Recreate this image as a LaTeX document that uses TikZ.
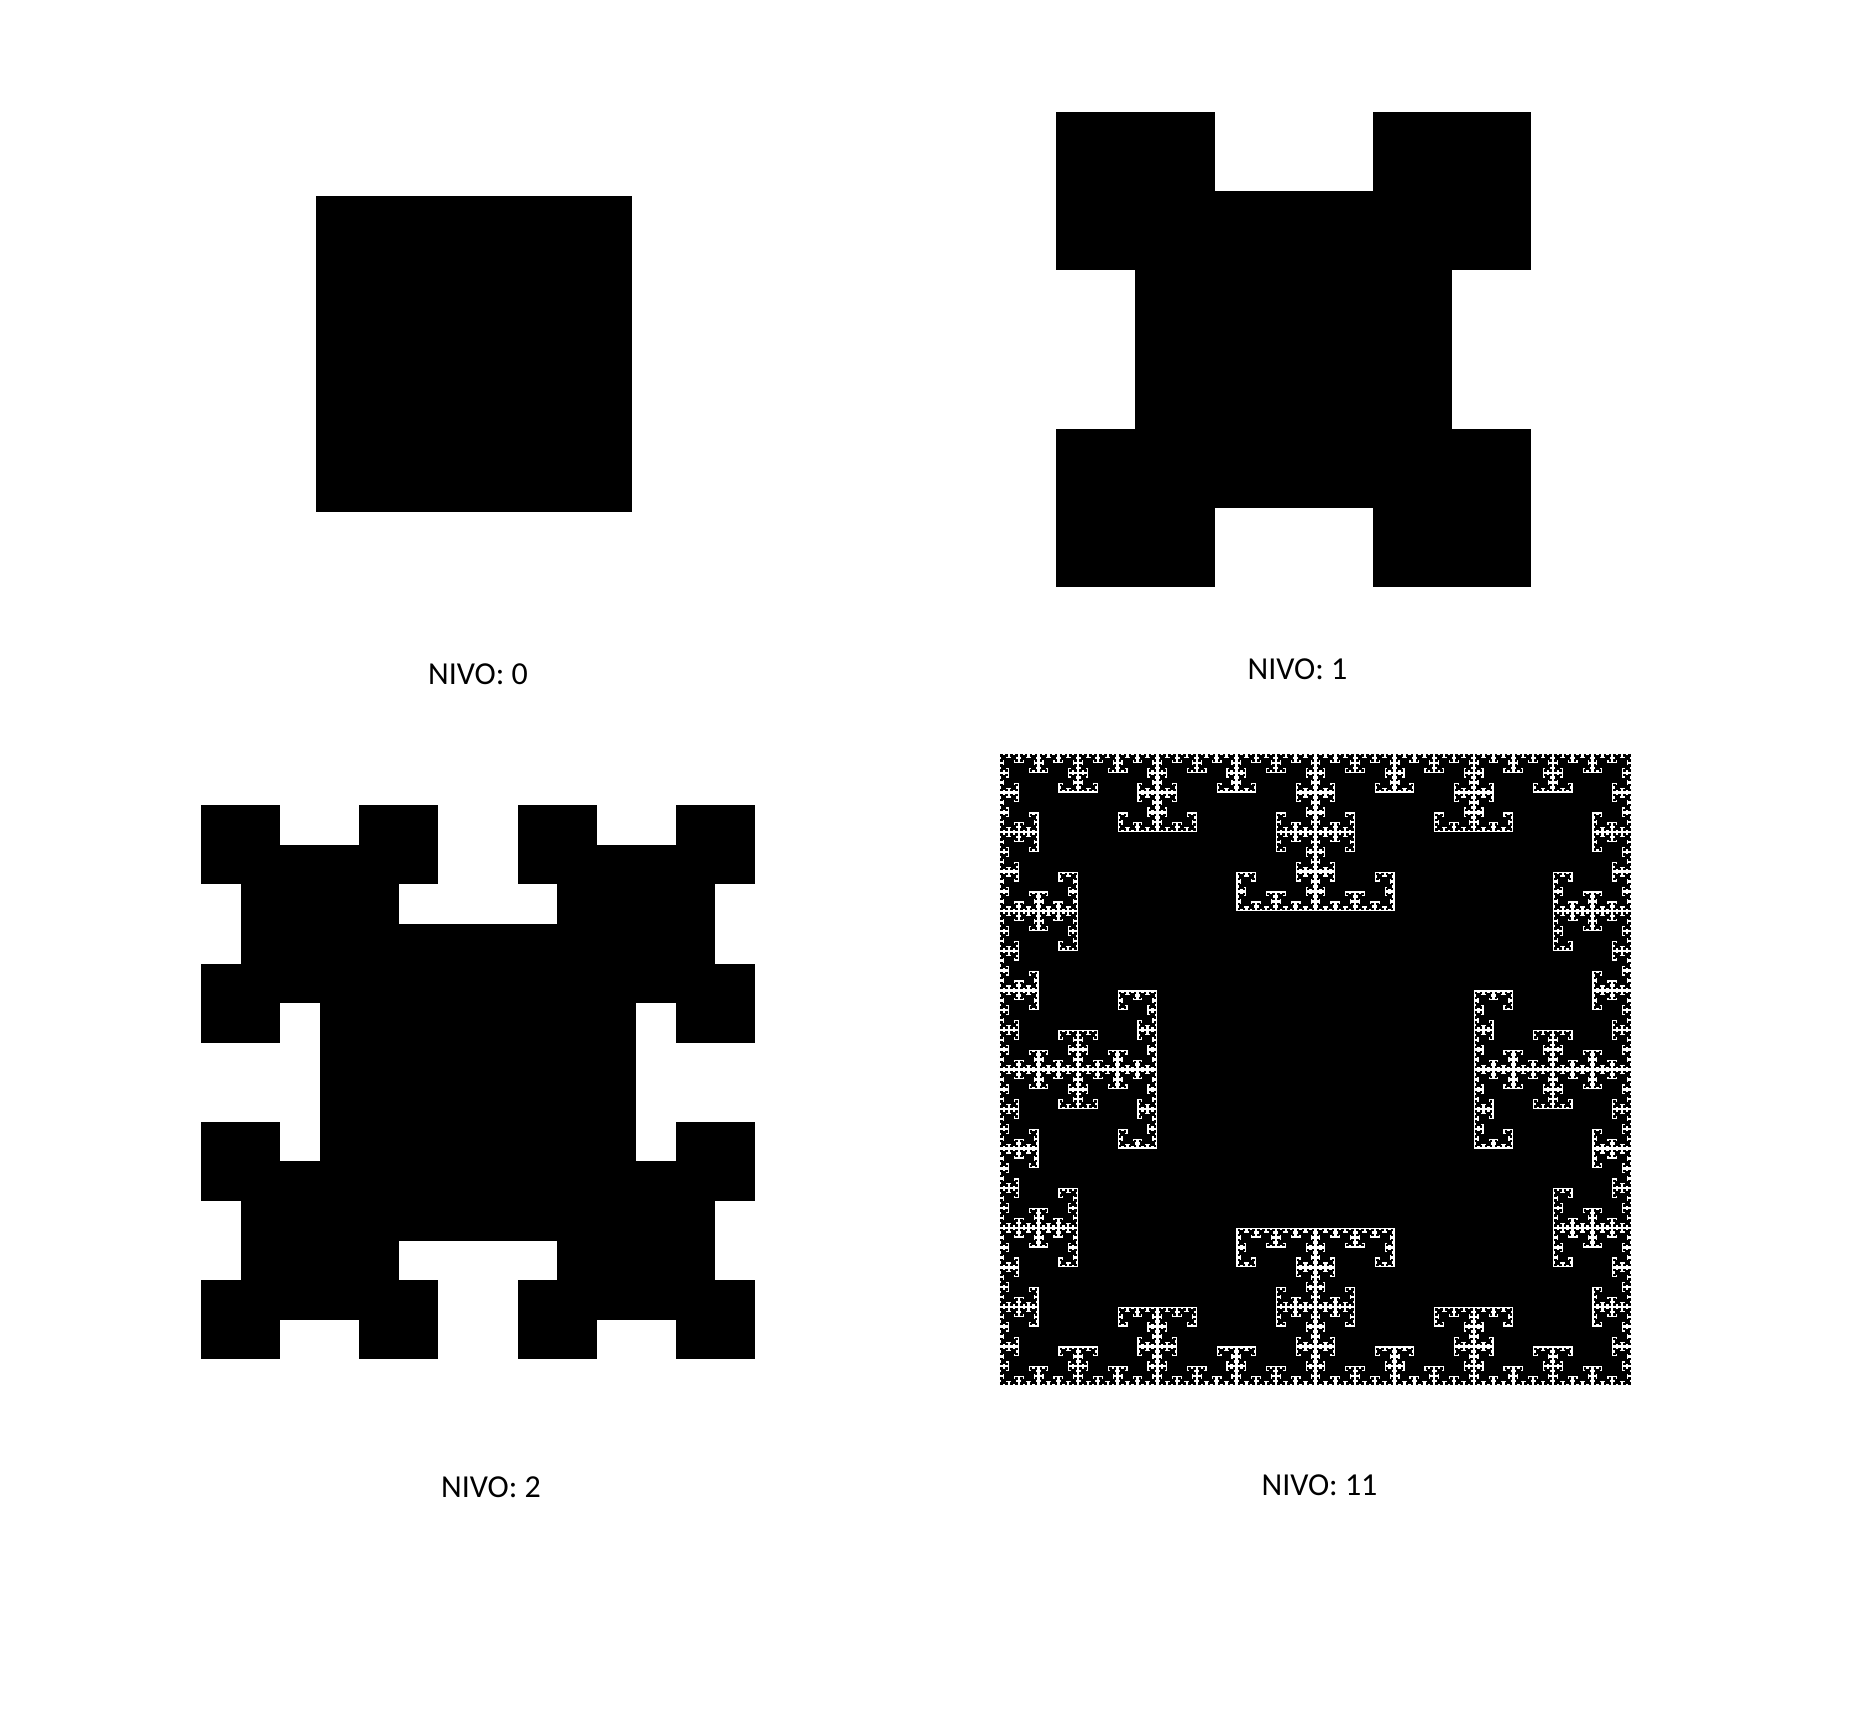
\documentclass[tikz,border=0pt]{standalone}
\usepackage{fontspec}
\setmainfont{Carlito}
% T-square fractal: square centred at (#2,#3) with half side #4, depth #1,
% #5 = corner child that is hidden inside the parent (not drawn)
\newcommand\tsq[5]{%
  \pgfpathrectanglecorners{\pgfqpoint{\dimexpr#2-#4\relax}{\dimexpr#3-#4\relax}}{\pgfqpoint{\dimexpr#2+#4\relax}{\dimexpr#3+#4\relax}}%
  \pgfusepath{fill}%
  \ifnum#1>0
    \edef\tsqnext{%
      \ifnum#5=1 \else\noexpand\tsq{\the\numexpr#1-1\relax}{\the\dimexpr#2+#4\relax}{\the\dimexpr#3+#4\relax}{\the\dimexpr#4/2\relax}{3}\fi
      \ifnum#5=2 \else\noexpand\tsq{\the\numexpr#1-1\relax}{\the\dimexpr#2-#4\relax}{\the\dimexpr#3+#4\relax}{\the\dimexpr#4/2\relax}{4}\fi
      \ifnum#5=3 \else\noexpand\tsq{\the\numexpr#1-1\relax}{\the\dimexpr#2-#4\relax}{\the\dimexpr#3-#4\relax}{\the\dimexpr#4/2\relax}{1}\fi
      \ifnum#5=4 \else\noexpand\tsq{\the\numexpr#1-1\relax}{\the\dimexpr#2+#4\relax}{\the\dimexpr#3-#4\relax}{\the\dimexpr#4/2\relax}{2}\fi
    }%
    \expandafter\tsqnext
  \fi}
\tikzset{lbl/.style={anchor=base, inner sep=0pt, font=\fontsize{32pt}{38pt}\selectfont}}
\begin{document}
\begin{tikzpicture}[x=1pt,y=1pt]
\useasboundingbox[fill=white] (0,0) rectangle (1850,-1718);
\pgfsetfillcolor{black}%
\tsq{0}{474pt}{-354.2pt}{158.25pt}{0}%
\tsq{1}{1293.7pt}{-349.4pt}{158.25pt}{0}%
\tsq{2}{478pt}{-1082.3pt}{158.25pt}{0}%
\tsq{7}{1315.5pt}{-1069.5pt}{158.25pt}{0}%
\node[lbl] (l0) at (478,-684) {NIVO: 0};
\node[lbl] (l1) at (1297.5,-679) {NIVO: 1};
\node[lbl] (l2) at (491,-1497) {NIVO: 2};
\node[lbl] (l11) at (1319.5,-1495) {NIVO: 11};
\end{tikzpicture}
\end{document}
